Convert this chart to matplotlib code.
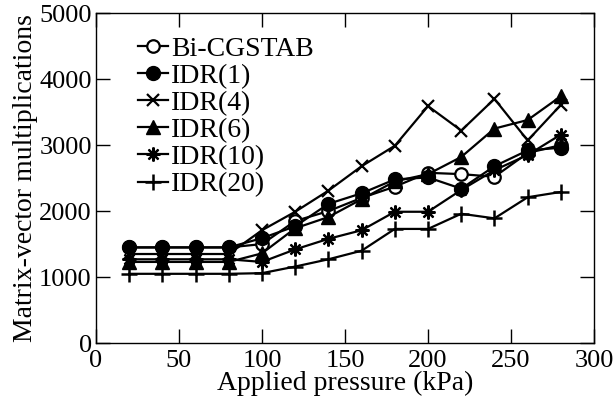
import matplotlib
matplotlib.use('Agg')
import matplotlib.pyplot as plt
import numpy as np

plt.rcParams['font.family'] = ['Liberation Serif', 'DejaVu Serif']

pressure = [20, 40, 60, 80, 100, 120, 140, 160, 180, 200, 220, 240, 260, 280]

bicgstab = [1450, 1450, 1450, 1450, 1500, 1850, 2000, 2200, 2370, 2580, 2560, 2520, 2880, 3000]
idr1 = [1450, 1450, 1450, 1450, 1590, 1770, 2110, 2270, 2480, 2510, 2340, 2680, 2920, 2960]
idr4 = [1350, 1350, 1350, 1350, 1710, 1990, 2310, 2680, 2990, 3590, 3220, 3700, 3070, 3610]
idr6 = [1230, 1230, 1230, 1230, 1360, 1740, 1910, 2180, 2450, 2560, 2820, 3250, 3380, 3740]
idr10 = [1270, 1270, 1270, 1270, 1230, 1420, 1580, 1710, 1990, 1990, 2320, 2620, 2850, 3160]
idr20 = [1050, 1050, 1050, 1050, 1060, 1160, 1270, 1400, 1730, 1730, 1960, 1890, 2210, 2290]

fig = plt.figure(figsize=(6.15, 4.08), dpi=100)
ax = fig.add_axes([0.156, 0.159, 0.810, 0.809])

kw = dict(color='black', lw=1.6)
ax.plot(pressure, bicgstab, marker='o', ms=9, mfc='white', mec='black', mew=1.6, label='Bi-CGSTAB', **kw)
ax.plot(pressure, idr1, marker='o', ms=10, mfc='black', mec='black', label='IDR(1)', **kw)
ax.plot(pressure, idr4, marker='x', ms=8, mew=1.6, label='IDR(4)', **kw)
ax.plot(pressure, idr6, marker='^', ms=10, mfc='black', mec='black', label='IDR(6)', **kw)
ax.plot(pressure, idr10, marker=(8, 2, 0), ms=10, mew=1.6, label='IDR(10)', **kw)
ax.plot(pressure, idr20, marker='+', ms=12, mew=1.8, label='IDR(20)', **kw)

ax.set_xlim(0, 300)
ax.set_ylim(0, 5000)
ax.set_xticks(np.arange(0, 301, 50))
ax.set_yticks(np.arange(0, 5001, 1000))
ax.tick_params(direction='in', length=10, width=1, top=True, right=True, labelsize=19)
ax.tick_params(axis='x', pad=5)
ax.tick_params(axis='y', pad=3)
for s in ax.spines.values():
    s.set_linewidth(1)

ax.set_xlabel('Applied pressure (kPa)', fontsize=20, labelpad=-1)
ax.set_ylabel('Matrix-vector multiplications', fontsize=20, labelpad=1)

ax.legend(loc='upper left', frameon=False, fontsize=20, handlelength=1.1, handletextpad=0.1,
          labelspacing=0.06, borderaxespad=0.2, bbox_to_anchor=(0.05, 0.98))

fig.savefig('out.png', dpi=100)
